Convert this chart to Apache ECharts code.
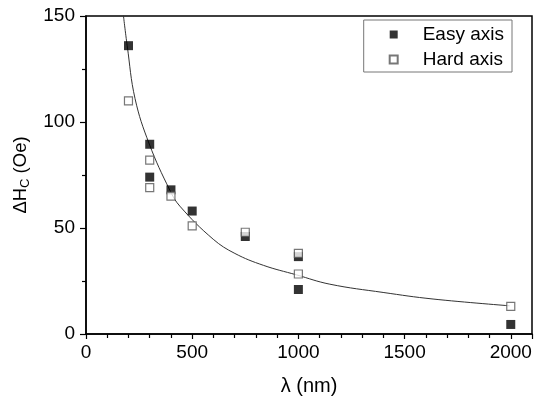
<!DOCTYPE html>
<html>
  <head>
    <meta charset="utf-8" />
    <title>ΔHc vs λ</title>
    <script src="https://cdn.jsdelivr.net/npm/echarts@6/dist/echarts.min.js"></script>
    <style>
      body { margin: 0; background: #fff; }
      #chart { width: 540px; height: 401px; }
    </style>
  </head>
  <body>
    <div id="chart"></div>
    <script>
      // easy axis (filled squares)
      const easyX = [200, 300, 300, 400, 500, 750, 1000, 1000, 2000];
      const easyY = [136, 89.5, 74, 68, 58, 46, 36.5, 21, 4.5];
      // hard axis (open squares)
      const hardX = [200, 300, 300, 400, 500, 750, 1000, 1000, 2000];
      const hardY = [110, 82, 69, 65, 51, 48, 38, 28.3, 13];
      // fitted curve
      const fitX = [176, 194, 231, 298, 395, 442, 599, 701, 835, 991, 1148, 1399, 1634, 1995];
      const fitY = [150.4, 136, 111, 89.6, 67.8, 60.3, 44.7, 38, 32.4, 27.9, 23.5, 19.6, 16.5, 13.3];

      const pairs = (xs, ys) => xs.map((x, i) => [x, ys[i]]);
      const font = 'Liberation Sans, Arial, sans-serif';

      const chart = echarts.init(document.getElementById('chart'));
      chart.setOption({
        animation: false,
        grid: {
          left: 86, right: 8, top: 16, bottom: 66,
          show: true, borderColor: '#000', borderWidth: 1.5
        },
        legend: {
          right: 28, top: 20,
          orient: 'vertical',
          itemWidth: 8, itemHeight: 8, itemGap: 6,
          padding: [5, 8, 3, 25],
          borderColor: '#777', borderWidth: 1,
          textStyle: { fontFamily: font, fontSize: 19, color: '#000', padding: [0, 0, 0, 20] },
          data: [
            { name: 'Easy axis', icon: 'rect' },
            { name: 'Hard axis', icon: 'rect' }
          ]
        },
        xAxis: {
          type: 'value', min: 0, max: 2100, interval: 500,
          name: 'λ (nm)', nameLocation: 'middle', nameGap: 42,
          nameTextStyle: { fontFamily: font, fontSize: 20, color: '#000' },
          axisLine: { lineStyle: { color: '#000', width: 1.5 } },
          axisTick: { inside: false, length: 5, lineStyle: { color: '#000', width: 1.2 } },
          minorTick: { show: true, splitNumber: 5, length: 4, lineStyle: { color: '#000', width: 1.2 } },
          axisLabel: {
            fontFamily: font, fontSize: 19, color: '#000', margin: 9,
            formatter: v => (v > 2000 ? '' : v)
          },
          splitLine: { show: false }
        },
        yAxis: {
          type: 'value', min: 0, max: 150, interval: 50,
          name: '{a|ΔH}{b|C}{a| (Oe)}', nameLocation: 'middle', nameGap: 41,
          nameTextStyle: {
            rich: {
              a: { fontFamily: font, fontSize: 18.5, color: '#000' },
              b: { fontFamily: font, fontSize: 13, color: '#000', padding: [9, 0, 0, 0] }
            }
          },
          axisLine: { show: true, lineStyle: { color: '#000', width: 1.5 } },
          axisTick: { show: true, inside: false, length: 6, lineStyle: { color: '#000', width: 1.2 } },
          minorTick: { show: true, splitNumber: 2, length: 4, lineStyle: { color: '#000', width: 1.2 } },
          axisLabel: { fontFamily: font, fontSize: 19, color: '#000', margin: 11 },
          splitLine: { show: false }
        },
        series: [
          {
            name: 'fit', type: 'line', data: pairs(fitX, fitY),
            smooth: 0.4, showSymbol: false, silent: true,
            lineStyle: { color: '#333', width: 1 }, z: 1
          },
          {
            name: 'Easy axis', type: 'scatter', data: pairs(easyX, easyY),
            symbol: 'rect', symbolSize: 9,
            itemStyle: { color: '#000', borderColor: '#000', borderWidth: 0 }, z: 2
          },
          {
            name: 'Hard axis', type: 'scatter', data: pairs(hardX, hardY),
            symbol: 'rect', symbolSize: 8,
            itemStyle: { color: '#fff', borderColor: '#555', borderWidth: 1.2 }, z: 3
          }
        ]
      });
    </script>
  </body>
</html>
